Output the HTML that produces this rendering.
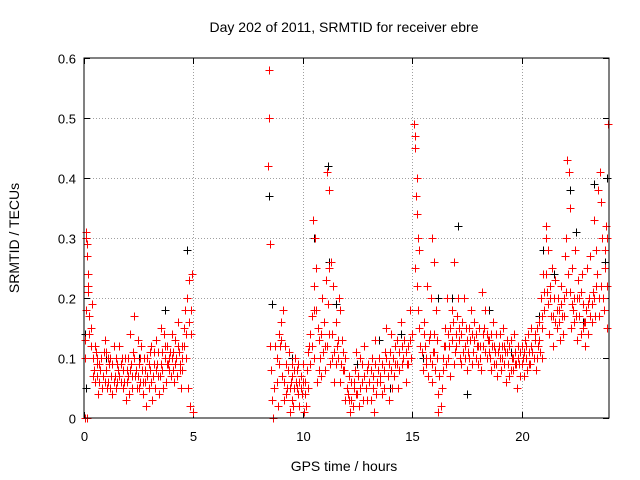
<!DOCTYPE html>
<html><head><meta charset="utf-8"><style>
body{margin:0;background:#fff}
svg{display:block;font-family:"Liberation Sans",sans-serif}
</style></head><body>
<svg id="chart" width="640" height="480">
<rect x="0" y="0" width="640" height="480" fill="#fff"/>
<text x="344" y="32" font-size="14" text-anchor="middle">Day 202 of 2011, SRMTID for receiver ebre</text>
<text x="344" y="471" font-size="14" text-anchor="middle">GPS time / hours</text>
<text transform="translate(19,238) rotate(-90)" font-size="14" text-anchor="middle">SRMTID / TECUs</text>
<g id="grid"></g>
<g id="ticks"></g>
<g id="black"></g>
<g id="red"></g>
<rect x="84" y="58" width="525" height="360" fill="none" stroke="#000" stroke-width="1"/>
</svg>
<script>
const xTicks=[0,5,10,15,20];
const yTicks=[0,0.1,0.2,0.3,0.4,0.5,0.6];
const yTickLabels=["0","0.1","0.2","0.3","0.4","0.5","0.6"];
const redPts=[[0.05,0.13],[0.08,0.3],[0.1,0.31],[0.12,0.29],[0.15,0.27],[0.18,0.24],[0.2,0.21],[0.1,0.18],[0.05,0],[0.15,0],[0.22,0.17],[0.25,0.14],[0.3,0.12],[0.35,0.19],[0.4,0.1],[0.3,0.15],[0.45,0.08],[0.5,0.06],[0.2,0.22],[0.05,0.1],
[0.6,0.07],[0.7,0.09],[0.8,0.05],[0.9,0.11],[1.0,0.08],[1.1,0.06],[1.2,0.1],[1.3,0.04],[1.4,0.07],[1.5,0.09],[1.6,0.12],[1.7,0.06],[1.8,0.08],[1.9,0.03],[2.0,0.1],[2.1,0.14],[2.2,0.07],[2.3,0.17],[2.4,0.05],[2.5,0.09],[2.6,0.12],[2.7,0.04],[2.8,0.06],[2.9,0.1],[3.0,0.08],[3.1,0.03],[3.2,0.11],[3.3,0.13],[3.4,0.07],[3.5,0.15],[3.6,0.05],[3.7,0.1],[3.8,0.12],[3.9,0.08],[4.0,0.14],[4.1,0.06],[4.2,0.1],[4.3,0.16],[4.4,0.09],[4.5,0.12],[4.6,0.18],[4.7,0.2],[4.8,0.23],[4.9,0.14],[4.75,0.05],[4.85,0.02],[5.0,0.01],[4.95,0.24],[0.55,0.11],[0.65,0.04],[0.75,0.08],[0.95,0.13],[1.05,0.05],[1.15,0.09],[1.25,0.07],[1.35,0.12],[1.45,0.05],[1.55,0.08],[1.75,0.1],[1.85,0.06],[1.95,0.08],[2.05,0.04],[2.15,0.09],[2.25,0.11],[2.35,0.07],[2.45,0.13],[2.55,0.06],[2.65,0.08],[2.75,0.1],[2.85,0.02],[2.95,0.05],[3.05,0.12],[3.15,0.07],[3.25,0.05],[3.35,0.09],[3.45,0.04],[3.55,0.11],[3.65,0.14],[3.75,0.06],[3.85,0.09],[3.95,0.11],[4.05,0.08],[4.15,0.13],[4.25,0.07],[4.35,0.11],[4.45,0.05],[4.55,0.15],[4.65,0.1],[0.6,0.1],[1.0,0.11],[1.5,0.06],[2.0,0.07],[2.5,0.05],[3.0,0.11],[3.5,0.09],[4.0,0.1],[4.5,0.08],
[8.45,0.58],[8.47,0.5],[8.43,0.42],[8.48,0.29],[8.5,0.12],[8.55,0.08],[8.6,0.03],[8.65,0],[8.7,0.05],
[8.8,0.1],[8.9,0.14],[9.0,0.16],[9.1,0.18],[9.2,0.12],[9.3,0.05],[9.4,0.01],[9.5,0.03],[9.6,0.08],[9.7,0.06],[9.8,0.04],[9.9,0.07],[10.0,0.09],[9.05,0.07],[9.15,0.03],[9.25,0.09],[9.35,0.11],[9.45,0.06],[9.55,0.02],[9.65,0.1],[9.75,0.05],[9.85,0.02],[9.95,0.04],[8.85,0.02],[8.95,0.12],[9.5,0.07],[9.8,0.09],[10.05,0.01],
[10.1,0.04],[10.2,0.08],[10.3,0.12],[10.4,0.17],[10.5,0.22],[10.6,0.25],[10.7,0.15],[10.8,0.1],[10.9,0.2],[11.0,0.12],[11.1,0.41],[11.2,0.38],[11.3,0.26],[11.4,0.22],[11.5,0.16],[11.6,0.1],[11.7,0.18],[11.8,0.13],[11.9,0.08],[12.0,0.05],[10.45,0.33],[10.55,0.3],[10.15,0.02],[10.25,0.05],[10.35,0.09],[10.65,0.06],[10.75,0.13],[10.85,0.07],[10.95,0.16],[11.05,0.23],[11.15,0.19],[11.25,0.09],[11.35,0.14],[11.45,0.06],[11.55,0.12],[11.65,0.2],[11.75,0.09],[11.85,0.11],[11.95,0.03],[11.2,0.25],[10.5,0.18],
[12.1,0.03],[12.2,0.06],[12.3,0.02],[12.4,0.08],[12.5,0.04],[12.6,0.1],[12.7,0.06],[12.8,0.12],[12.9,0.05],[13.0,0.09],[13.1,0.03],[13.2,0.07],[13.3,0.13],[13.4,0.06],[13.5,0.1],[13.6,0.04],[13.7,0.08],[13.8,0.15],[13.9,0.07],[14.0,0.11],[14.1,0.05],[14.2,0.09],[14.3,0.13],[14.4,0.08],[14.5,0.16],[14.6,0.1],[14.7,0.06],[14.8,0.12],[14.9,0.18],[15.0,0.14],[12.15,0.01],[12.35,0.05],[12.55,0.02],[12.75,0.03],[12.95,0.08],[13.15,0.1],[13.35,0.04],[13.55,0.06],[13.75,0.11],[13.95,0.03],[14.15,0.07],[14.35,0.05],[14.55,0.12],[14.75,0.09],[14.95,0.1],[12.45,0.11],[13.25,0.01],[14.05,0.14],
[15.1,0.49],[15.12,0.47],[15.15,0.45],[15.2,0.4],[15.18,0.37],[15.22,0.34],[15.25,0.3],[15.3,0.28],[15.15,0.25],[15.2,0.22],[15.28,0.18],[15.3,0.15],[15.35,0.12],
[15.5,0.08],[15.6,0.12],[15.7,0.22],[15.8,0.1],[15.9,0.06],[16.0,0.14],[16.1,0.18],[16.2,0.04],[16.3,0.02],[16.4,0.1],[16.5,0.15],[16.6,0.2],[16.7,0.12],[16.8,0.18],[16.9,0.26],[17.0,0.14],[17.1,0.2],[17.2,0.1],[17.3,0.16],[17.4,0.12],[17.5,0.08],[17.6,0.15],[17.7,0.18],[17.8,0.11],[17.9,0.14],[18.0,0.09],[18.1,0.12],[18.2,0.21],[18.3,0.15],[18.4,0.1],[18.5,0.13],[18.6,0.08],[18.7,0.16],[18.8,0.11],[18.9,0.07],[19.0,0.14],[19.1,0.1],[19.2,0.12],[19.3,0.06],[19.4,0.09],[19.5,0.13],[19.6,0.08],[19.7,0.11],[19.8,0.05],[19.9,0.09],[20.0,0.12],[20.1,0.07],[20.2,0.1],[20.3,0.14],[20.4,0.09],[20.5,0.11],[15.55,0.16],[15.65,0.09],[15.75,0.13],[15.85,0.2],[15.95,0.11],[16.05,0.08],[16.15,0.13],[16.25,0.07],[16.35,0.05],[16.45,0.12],[16.55,0.09],[16.65,0.14],[16.75,0.07],[16.85,0.16],[16.95,0.11],[17.05,0.17],[17.15,0.13],[17.25,0.09],[17.35,0.2],[17.45,0.15],[17.55,0.11],[17.65,0.13],[17.75,0.09],[17.85,0.16],[17.95,0.12],[18.05,0.15],[18.15,0.08],[18.25,0.12],[18.35,0.18],[18.45,0.13],[18.55,0.1],[18.65,0.12],[18.75,0.09],[18.85,0.14],[18.95,0.12],[19.05,0.08],[19.15,0.15],[19.25,0.11],[19.35,0.13],[19.45,0.07],[19.55,0.1],[19.65,0.14],[19.75,0.09],[19.85,0.12],[19.95,0.07],[20.05,0.1],[20.15,0.13],[20.25,0.08],[20.35,0.11],[20.45,0.15],[16.2,0.01],[16.0,0.26],[15.9,0.3],
[20.6,0.13],[20.7,0.1],[20.8,0.16],[20.9,0.2],[21.0,0.24],[21.1,0.3],[21.2,0.28],[21.3,0.22],[21.4,0.25],[21.5,0.2],[21.6,0.15],[21.7,0.18],[21.8,0.22],[21.9,0.14],[22.0,0.27],[22.1,0.43],[22.15,0.41],[22.2,0.35],[22.3,0.25],[22.4,0.2],[22.5,0.17],[22.6,0.23],[22.7,0.14],[22.8,0.19],[22.9,0.12],[23.0,0.25],[23.1,0.2],[23.2,0.16],[23.3,0.33],[23.4,0.28],[23.5,0.38],[23.6,0.41],[23.7,0.3],[23.8,0.25],[23.9,0.22],[23.95,0.49],[20.65,0.08],[20.75,0.12],[20.85,0.11],[20.95,0.15],[21.05,0.18],[21.15,0.21],[21.25,0.14],[21.35,0.17],[21.45,0.12],[21.55,0.23],[21.65,0.2],[21.75,0.13],[21.85,0.17],[21.95,0.2],[22.05,0.3],[22.25,0.15],[22.35,0.18],[22.45,0.28],[22.55,0.13],[22.65,0.2],[22.75,0.24],[22.85,0.16],[22.95,0.18],[23.05,0.14],[23.15,0.27],[23.25,0.21],[23.35,0.17],[23.45,0.24],[23.55,0.2],[23.65,0.36],[23.75,0.18],[23.85,0.32],[23.9,0.15],[21.1,0.32],[20.95,0.1]];
const redPtsExtra=[[0.58,0.09],[0.68,0.06],[0.78,0.1],[0.88,0.07],[0.98,0.06],[1.08,0.1],[1.18,0.05],[1.28,0.09],[1.38,0.06],[1.48,0.1],[1.58,0.07],[1.68,0.09],[1.78,0.05],[1.88,0.1],[1.98,0.06],[2.08,0.08],[2.18,0.05],[2.28,0.1],[2.38,0.08],[2.48,0.07],[2.58,0.1],[2.68,0.06],[2.78,0.08],[2.88,0.07],[2.98,0.09],[3.08,0.06],[3.18,0.09],[3.28,0.08],[3.38,0.11],[3.48,0.07],[3.58,0.08],[3.68,0.12],[3.78,0.09],[3.88,0.1],[3.98,0.07],[4.08,0.11],[4.18,0.09],[4.28,0.12],[4.38,0.08],[4.48,0.1],[4.58,0.12],[4.68,0.14],[4.78,0.16],[4.88,0.18],[0.42,0.07],[0.48,0.12],
[8.75,0.12],[8.82,0.06],[8.92,0.09],[9.02,0.13],[9.12,0.06],[9.22,0.04],[9.32,0.08],[9.42,0.05],[9.52,0.09],[9.62,0.05],[9.72,0.08],[9.82,0.06],[9.92,0.05],[10.02,0.06],
[10.12,0.06],[10.22,0.11],[10.32,0.14],[10.42,0.12],[10.52,0.1],[10.62,0.18],[10.72,0.08],[10.82,0.14],[10.92,0.11],[11.02,0.08],[11.12,0.12],[11.22,0.14],[11.32,0.1],[11.42,0.11],[11.52,0.09],[11.62,0.13],[11.72,0.06],[11.82,0.08],[11.92,0.1],
[12.05,0.04],[12.12,0.07],[12.22,0.03],[12.32,0.06],[12.42,0.04],[12.52,0.07],[12.62,0.05],[12.72,0.09],[12.82,0.07],[12.92,0.03],[13.02,0.06],[13.12,0.08],[13.22,0.05],[13.32,0.09],[13.42,0.08],[13.52,0.07],[13.62,0.09],[13.72,0.05],[13.82,0.1],[13.92,0.09],[14.02,0.08],[14.12,0.1],[14.22,0.12],[14.32,0.09],[14.42,0.11],[14.52,0.09],[14.62,0.13],[14.72,0.11],[14.82,0.09],[14.92,0.13],
[15.45,0.11],[15.52,0.14],[15.62,0.1],[15.72,0.07],[15.82,0.14],[15.92,0.09],[16.02,0.11],[16.12,0.1],[16.42,0.08],[16.52,0.12],[16.62,0.1],[16.72,0.15],[16.82,0.13],[16.92,0.09],[17.02,0.12],[17.12,0.15],[17.22,0.14],[17.32,0.11],[17.42,0.1],[17.52,0.13],[17.62,0.1],[17.72,0.14],[17.82,0.13],[17.92,0.1],[18.02,0.12],[18.12,0.1],[18.22,0.14],[18.32,0.11],[18.42,0.14],[18.52,0.11],[18.62,0.14],[18.72,0.12],[18.82,0.09],[18.92,0.11],[19.02,0.1],[19.12,0.12],[19.22,0.09],[19.32,0.11],[19.42,0.12],[19.52,0.08],[19.62,0.1],[19.72,0.09],[19.82,0.1],[19.92,0.11],[20.02,0.09],[20.12,0.11],[20.22,0.12],[20.32,0.09],[20.42,0.12],
[20.55,0.1],[20.62,0.14],[20.72,0.15],[20.82,0.13],[20.92,0.17],[21.02,0.21],[21.12,0.24],[21.22,0.19],[21.32,0.2],[21.42,0.17],[21.52,0.16],[21.62,0.18],[21.72,0.16],[21.82,0.19],[21.92,0.17],[22.02,0.21],[22.12,0.24],[22.22,0.21],[22.32,0.19],[22.42,0.16],[22.52,0.2],[22.62,0.17],[22.72,0.21],[22.82,0.15],[22.92,0.16],[23.02,0.19],[23.12,0.17],[23.22,0.19],[23.32,0.2],[23.42,0.22],[23.52,0.17],[23.62,0.22],[23.72,0.2],[23.82,0.28],[23.92,0.3]];
const blackPts=[[0.05,0.14],[0.1,0.05],[3.7,0.18],[4.7,0.28],[8.45,0.37],[8.6,0.19],[10.5,0.3],[11.15,0.42],[11.2,0.26],[11.5,0.19],[12.5,0.09],[13.5,0.13],[14.5,0.14],[15.5,0.1],[16.2,0.2],[17.1,0.32],[17.5,0.04],[18.5,0.18],[19.5,0.11],[21.0,0.28],[21.5,0.24],[22.2,0.38],[22.5,0.31],[23.3,0.39],[23.8,0.26],[23.9,0.4],[20.8,0.17],[9.5,0.1],[2.5,0.1],[1.0,0.1],[14.0,0.05],[16.8,0.2],[22.8,0.16]];

const NS="http://www.w3.org/2000/svg";
const X0=84,X1=609,Y0=418,Y1=58;
function sx(t){return X0+(X1-X0)*t/24;}
function sy(v){return Y0-(Y0-Y1)*v/0.6;}
const grid=document.getElementById('grid'),ticks=document.getElementById('ticks');
function mk(tag,attrs,parent){const e=document.createElementNS(NS,tag);for(const k in attrs)e.setAttribute(k,attrs[k]);parent.appendChild(e);return e;}
yTicks.forEach((v,i)=>{
  const y=Math.round(sy(v))+0.5;
  if(v>0&&v<0.6){const g=mk('line',{x1:X0,x2:X1,y1:y,y2:y,stroke:'#a0a0a0','stroke-dasharray':'1,2'},grid);
  
  }
  const t=mk('text',{x:X0-8,y:y+5,'font-size':13,'text-anchor':'end'},ticks);
  t.textContent=yTickLabels[i];
  
  
  mk('line',{x1:X0,x2:X0+6,y1:y,y2:y,stroke:'#000'},ticks);
  mk('line',{x1:X1,x2:X1-6,y1:y,y2:y,stroke:'#000'},ticks);
});
xTicks.forEach(v=>{
  const x=Math.round(sx(v))+0.5;
  if(v>0){const g=mk('line',{x1:x,x2:x,y1:Y0,y2:Y1,stroke:'#a0a0a0','stroke-dasharray':'1,2'},grid);
  
  }
  const t=mk('text',{x:x,y:Y0+23,'font-size':13,'text-anchor':'middle'},ticks);
  t.textContent=String(v);
  
  
  mk('line',{x1:x,x2:x,y1:Y0,y2:Y0-6,stroke:'#000'},ticks);
  mk('line',{x1:x,x2:x,y1:Y1,y2:Y1+6,stroke:'#000'},ticks);
});
function plot(pts,color,gid){
  const g=document.getElementById(gid);
  pts.forEach(p=>{
    const x=Math.round(sx(p[0]))+0.5,y=Math.round(sy(p[1]))+0.5;
    const e=mk('path',{d:`M${x-4} ${y}H${x+4}M${x} ${y-4}V${y+4}`,stroke:color,'stroke-width':1,fill:'none'},g);
    
    
  });
}
plot(blackPts,'#000','black');
plot(redPts,'#ff0000','red');
plot(redPtsExtra,'#ff0000','red');
</script>
</body></html>
